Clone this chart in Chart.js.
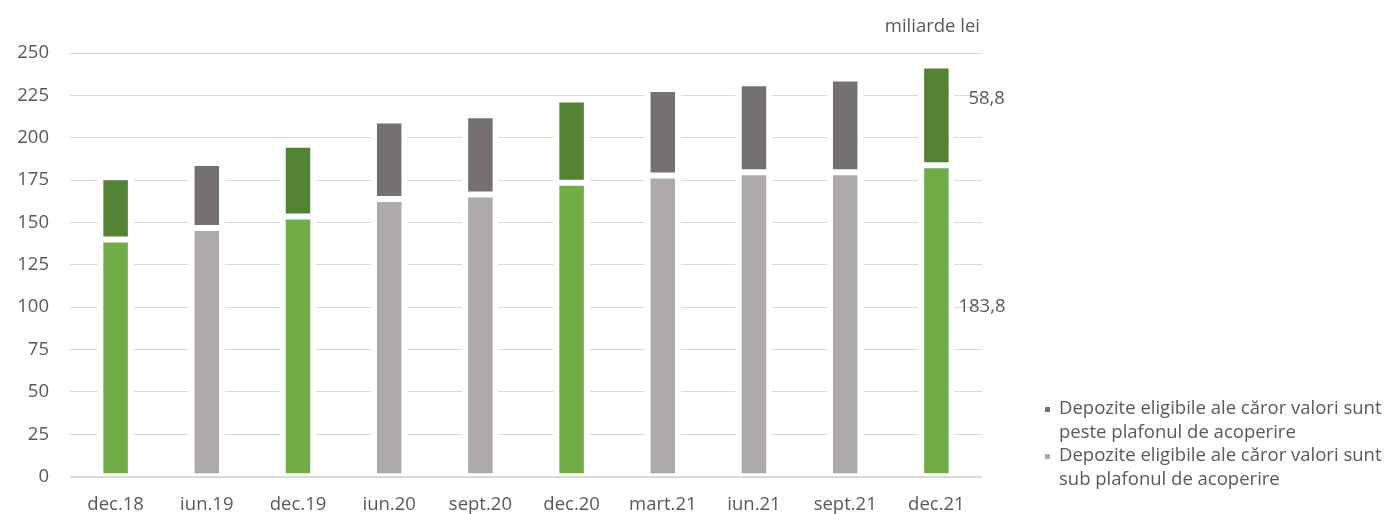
<!DOCTYPE html>
<html>
<head>
<meta charset="utf-8">
<script src="https://cdn.jsdelivr.net/npm/chart.js@4.4.1/dist/chart.umd.min.js"></script>
<style>
  html, body { margin: 0; padding: 0; background: #fff; }
  #wrap { width: 1388px; height: 514px; position: relative; }
</style>
</head>
<body>
<div id="wrap"><canvas id="c" width="1388" height="514"></canvas></div>
<script>
const categories = ['dec.18', 'iun.19', 'dec.19', 'iun.20', 'sept.20', 'dec.20', 'mart.21', 'iun.21', 'sept.21', 'dec.21'];
const subPlafon = [140.0, 146.7, 153.5, 163.8, 166.5, 173.4, 177.7, 179.6, 179.7, 183.8];
const pestePlafon = [36.7, 38.4, 42.3, 46.4, 46.8, 49.2, 51.1, 52.6, 55.3, 58.8];
const yTicks = [0, 25, 50, 75, 100, 125, 150, 175, 200, 225, 250];
const labelSub = 'Depozite eligibile ale căror valori sunt sub plafonul de acoperire';
const labelPeste = 'Depozite eligibile ale căror valori sunt peste plafonul de acoperire';
const unitText = 'miliarde lei';
const lastSubLabel = '183,8';
const lastPesteLabel = '58,8';

const FONT = '"Open Sans", sans-serif';
const TXT = '#595959';
const GRID = '#D9D9D9';
const C_LG = '#70AD47', C_DG = '#548235', C_LGR = '#AEAAAA', C_DGR = '#767171';
const isDec = categories.map(c => c.startsWith('dec'));

const overlay = {
  id: 'overlay',
  afterDatasetsDraw(chart) {
    const ctx = chart.ctx;
    const ca = chart.chartArea;
    const y = chart.scales.y;
    const x = chart.scales.x;
    ctx.save();
    // zero line on top of bars
    const y0 = Math.round(y.getPixelForValue(0)) + 0.5;
    ctx.strokeStyle = GRID;
    ctx.lineWidth = 1;
    ctx.beginPath();
    ctx.moveTo(ca.left, y0);
    ctx.lineTo(ca.right, y0);
    ctx.stroke();

    ctx.fillStyle = TXT;
    ctx.font = '18.5px ' + FONT;
    ctx.textBaseline = 'middle';
    // unit
    ctx.textAlign = 'right';
    ctx.fillText(unitText, 980, 27);
    // labels of last bar
    ctx.textAlign = 'left';
    const last = categories.length - 1;
    const xl = x.getPixelForValue(last);
    ctx.fillText(lastPesteLabel, xl + 32, 99);
    ctx.fillText(lastSubLabel, xl + 22, 307);

    // legend
    const lx = 1045, tx = 1059;
    const items = [
      { color: C_DGR, lines: ['Depozite eligibile ale căror valori sunt', 'peste plafonul de acoperire'], y: 409 },
      { color: C_LGR, lines: ['Depozite eligibile ale căror valori sunt', 'sub plafonul de acoperire'], y: 456 }
    ];
    items.forEach(it => {
      ctx.fillStyle = it.color;
      ctx.fillRect(lx, it.y - 2, 5, 5);
      ctx.fillStyle = TXT;
      it.lines.forEach((ln, i) => ctx.fillText(ln, tx, it.y + i * 23.5));
    });
    ctx.restore();
  }
};

new Chart(document.getElementById('c'), {
  type: 'bar',
  data: {
    labels: categories,
    datasets: [
      {
        label: labelSub,
        data: subPlafon,
        backgroundColor: isDec.map(d => d ? C_LG : C_LGR),
        borderColor: '#FFFFFF',
        borderWidth: { top: 3, bottom: 3, left: 6, right: 6 },
        borderSkipped: false,
        barPercentage: 0.4,
        categoryPercentage: 1.0
      },
      {
        label: labelPeste,
        data: pestePlafon,
        backgroundColor: isDec.map(d => d ? C_DG : C_DGR),
        borderColor: '#FFFFFF',
        borderWidth: { top: 3, bottom: 3, left: 6, right: 6 },
        borderSkipped: false,
        barPercentage: 0.4,
        categoryPercentage: 1.0
      }
    ]
  },
  options: {
    responsive: false,
    animation: false,
    layout: { padding: { left: 0, right: 406, top: 53, bottom: 0 } },
    plugins: {
      legend: { display: false },
      tooltip: { enabled: false }
    },
    scales: {
      x: {
        stacked: true,
        grid: { display: false, drawTicks: false },
        border: { display: false },
        ticks: { color: TXT, font: { family: FONT, size: 18.5 }, padding: 17, maxRotation: 0, autoSkip: false },
        afterFit(s) { s.height = 37.3; }
      },
      y: {
        stacked: true,
        min: 0,
        max: 250,
        afterBuildTicks(s) { s.ticks = yTicks.map(v => ({ value: v })); },
        grid: { color: GRID, lineWidth: 1, drawTicks: false },
        border: { display: false },
        ticks: { color: TXT, font: { family: FONT, size: 18.5 }, padding: 21 },
        afterFit(s) { s.width = 70; }
      }
    }
  },
  plugins: [overlay]
});
</script>
</body>
</html>
